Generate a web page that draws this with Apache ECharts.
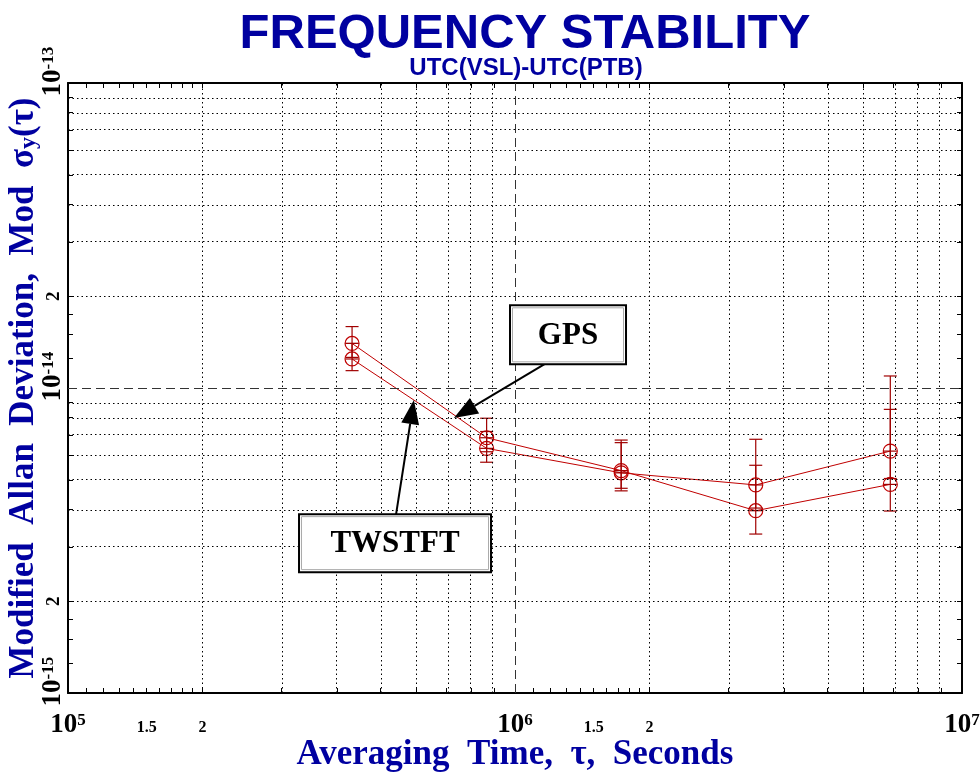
<!DOCTYPE html>
<html><head><meta charset="utf-8">
<script src="https://cdn.jsdelivr.net/npm/echarts@6/dist/echarts.min.js"></script>
<style>html,body{margin:0;padding:0;background:#fff}#c{width:980px;height:773px}</style>
</head><body><div id="c"></div>
<script>
// ---- data (raw units: seconds, fractional frequency) ----
const tau = [432000, 864000, 1728000, 3456000, 6912000];
const gps = [1.40e-14, 6.87e-15, 5.36e-15, 3.96e-15, 4.83e-15];
const gpsLow = [1.26e-14, 6.18e-15, 4.69e-15, 3.32e-15, 3.95e-15];
const gpsHigh = [1.59e-14, 7.96e-15, 6.75e-15, 5.58e-15, 8.51e-15];
const twstft = [1.245e-14, 6.34e-15, 5.27e-15, 4.81e-15, 6.21e-15];
const twstftLow = [1.14e-14, 5.71e-15, 4.60e-15, 4.04e-15, 5.05e-15];
const twstftHigh = [1.40e-14, 7.2e-15, 6.62e-15, 6.79e-15, 1.095e-14];

const xDecades = [1e5, 1e6, 1e7];
const yDecades = [1e-15, 1e-14, 1e-13];
const xTickMults = [1.1, 1.2, 1.3, 1.4, 1.5, 1.6, 1.7, 1.8, 1.9, 2, 3, 4, 5, 6, 7, 8, 9];
const yTickMults = [1.25, 1.5, 1.75, 2, 3, 4, 5, 6, 7, 8, 9];
const gridMults = [2, 3, 4, 5, 6, 7, 8, 9];
const xLabelValues = [1e5, 1.5e5, 2e5, 1e6, 1.5e6, 2e6, 1e7];
const yLabelValues = [1e-15, 2e-15, 1e-14, 2e-14, 1e-13];

const boxLabels = ['GPS', 'TWSTFT'];
const boxTau = [1.314e6, 5.39e5];
const boxAdev = [1.494e-14, 3.1e-15];
const arrowFromTau = [1.167e6, 5.42e5];
const arrowFromAdev = [1.2e-14, 3.86e-15];
const arrowToTau = [7.30e5, 5.94e5];
const arrowToAdev = [7.97e-15, 9.13e-15];

// ---- helpers ----
const L = Math.log10;
function expand(decades, mults) {
  const out = [];
  for (let i = 0; i < decades.length; i++) {
    out.push(L(decades[i]));
    if (i < decades.length - 1) mults.forEach(m => out.push(L(m * decades[i])));
  }
  return out;
}
const xTicks = expand(xDecades, xTickMults);
const yTicks = expand(yDecades, yTickMults);
const xGridMinor = [], yGridMinor = [];
for (let i = 0; i < xDecades.length - 1; i++) gridMults.forEach(m => xGridMinor.push(L(m * xDecades[i])));
for (let i = 0; i < yDecades.length - 1; i++) gridMults.forEach(m => yGridMinor.push(L(m * yDecades[i])));
const xGridMajor = xDecades.slice(1, -1).map(L);
const yGridMajor = yDecades.slice(1, -1).map(L);

const serif = '"Liberation Serif","DejaVu Serif",serif';
const blue = '#0000a0';
const red = '#c00000';
const errRed = '#a00000';
const boxSize = { GPS: [116, 59], TWSTFT: [192, 58] };

function fmtX(v) {
  const r = Math.round(v);
  if (Math.abs(v - r) < 1e-6) return '{b|10}{sup|' + r + '}';
  const m = Math.pow(10, v - Math.floor(v));
  return '{g|1}{s|' + (+m.toFixed(2)) + '}{g|1}';
}
function fmtY(v) {
  const r = Math.round(v);
  if (Math.abs(v - r) < 1e-6) return '{sp|' + r + '}{b|10}{sup|' + r + '}';
  const m = Math.pow(10, v - Math.floor(v));
  return '{g|1}{s|' + (+m.toFixed(2)) + '}{g|1}';
}
function makeRich(sSize) {
  return {
    b: { fontFamily: serif, fontWeight: 'bold', fontSize: 27, color: '#000', lineHeight: 27, verticalAlign: 'bottom' },
    g: { fontFamily: serif, fontWeight: 'bold', fontSize: 27, color: 'rgba(0,0,0,0)', lineHeight: 27, verticalAlign: 'bottom' },
    sup: { fontFamily: serif, fontWeight: 'bold', fontSize: 17, color: '#000', lineHeight: 17, padding: [0, 0, 12, 0], verticalAlign: 'top' },
    sp: { fontFamily: serif, fontWeight: 'bold', fontSize: 17, color: 'rgba(0,0,0,0)', lineHeight: 17, padding: [0, 0, 12, 0], verticalAlign: 'top' },
    s: { fontFamily: serif, fontWeight: 'bold', fontSize: sSize, color: '#000', lineHeight: sSize, padding: [0, 0, 3, 0], verticalAlign: 'bottom' }
  };
}

function renderErr(params, api) {
  const x = api.value(0);
  const p0 = api.coord([x, api.value(1)]);
  const p1 = api.coord([x, api.value(2)]);
  const pc = api.coord([x, api.value(3)]);
  const cw = 6.5;
  const st = { stroke: errRed, lineWidth: 1.2 };
  return {
    type: 'group', children: [
      { type: 'line', shape: { x1: p0[0], y1: p0[1], x2: p1[0], y2: p1[1] }, style: st },
      { type: 'line', shape: { x1: p0[0] - cw, y1: p0[1], x2: p0[0] + cw, y2: p0[1] }, style: st },
      { type: 'line', shape: { x1: p1[0] - cw, y1: p1[1], x2: p1[0] + cw, y2: p1[1] }, style: st },
      { type: 'line', shape: { x1: pc[0] - cw, y1: pc[1], x2: pc[0] + cw, y2: pc[1] }, style: st }
    ]
  };
}
function renderArrow(params, api) {
  const a = api.coord([api.value(0), api.value(1)]);
  const b = api.coord([api.value(2), api.value(3)]);
  const dx = b[0] - a[0], dy = b[1] - a[1];
  const len = Math.sqrt(dx * dx + dy * dy);
  const ux = dx / len, uy = dy / len;
  const hl = 24, hw = 9;
  const bx = b[0] - ux * hl, by = b[1] - uy * hl;
  return {
    type: 'group', children: [
      { type: 'line', shape: { x1: a[0], y1: a[1], x2: bx, y2: by }, style: { stroke: '#000', lineWidth: 2 } },
      { type: 'polygon', shape: { points: [[b[0], b[1]], [bx - uy * hw, by + ux * hw], [bx + uy * hw, by - ux * hw]] }, style: { fill: '#000' } }
    ]
  };
}
function renderBox(params, api) {
  const c = api.coord([api.value(0), api.value(1)]);
  const name = boxLabels[params.dataIndex];
  const sz = boxSize[name];
  const x0 = c[0] - sz[0] / 2, y0 = c[1] - sz[1] / 2;
  return {
    type: 'group', children: [
      { type: 'rect', shape: { x: x0, y: y0, width: sz[0], height: sz[1] }, style: { fill: '#fff', stroke: '#000', lineWidth: 2 } },
      { type: 'rect', shape: { x: x0 + 2.5, y: y0 + 2.5, width: sz[0] - 5, height: sz[1] - 5 }, style: { fill: 'none', stroke: '#aaa', lineWidth: 1 } },
      { type: 'text', x: c[0], y: c[1] + 1, style: { text: name, font: 'bold 31px ' + serif, fill: '#000', align: 'center', verticalAlign: 'middle' } }
    ]
  };
}
function errData(vals, lo, hi) {
  return tau.map((t, i) => [L(t), L(lo[i]), L(hi[i]), L(vals[i])]);
}
function lineData(vals) { return tau.map((t, i) => [L(t), L(vals[i])]); }

const dotted = { type: [1.5, 3], color: '#000', width: 1 };
const dashed = { type: [9, 5], color: '#333', width: 1 };
const gridLines = [].concat(
  xGridMinor.map(v => ({ xAxis: v, lineStyle: dotted })),
  yGridMinor.map(v => ({ yAxis: v, lineStyle: dotted })),
  xGridMajor.map(v => ({ xAxis: v, lineStyle: dashed })),
  yGridMajor.map(v => ({ yAxis: v, lineStyle: dashed }))
);

const axisCommon = {
  type: 'value', splitLine: { show: false },
  axisLine: { show: true, onZero: false, lineStyle: { color: '#000', width: 2 } }
};

const chart = echarts.init(document.getElementById('c'), null, { renderer: 'canvas' });
chart.setOption({
  animation: false,
  backgroundColor: '#fff',
  grid: { left: 68, right: 18, top: 83, bottom: 80, containLabel: false, outerBoundsMode: 'none' },
  graphic: [
    { type: 'text', x: 525, y: 34, style: { text: 'FREQUENCY STABILITY', font: 'bold 49px "Liberation Sans", Arial, sans-serif', fill: blue, align: 'center', verticalAlign: 'middle' } },
    { type: 'text', x: 526, y: 68, style: { text: 'UTC(VSL)-UTC(PTB)', font: 'bold 24px "Liberation Sans", Arial, sans-serif', fill: blue, align: 'center', verticalAlign: 'middle' } }
  ],
  xAxis: [
    Object.assign({}, axisCommon, {
      position: 'bottom', min: L(xDecades[0]), max: L(xDecades[xDecades.length - 1]),
      axisTick: { show: true, inside: true, length: 5, customValues: xTicks, lineStyle: { color: '#000', width: 1 } },
      axisLabel: { show: true, customValues: xLabelValues.map(L), margin: 19, formatter: fmtX, rich: makeRich(16) },
      name: 'Averaging  Time,  τ,  Seconds', nameLocation: 'middle', nameGap: 44, nameMoveOverlap: false,
      nameTextStyle: { fontFamily: serif, fontWeight: 'bold', fontSize: 35, color: blue }
    }),
    Object.assign({}, axisCommon, {
      position: 'top', min: L(xDecades[0]), max: L(xDecades[xDecades.length - 1]),
      axisTick: { show: true, inside: true, length: 5, customValues: xTicks, lineStyle: { color: '#000', width: 1 } },
      axisLabel: { show: false }
    })
  ],
  yAxis: [
    Object.assign({}, axisCommon, {
      position: 'left', min: L(yDecades[0]), max: L(yDecades[yDecades.length - 1]),
      axisTick: { show: true, inside: true, length: 5, customValues: yTicks, lineStyle: { color: '#000', width: 1 } },
      axisLabel: { show: true, customValues: yLabelValues.map(L), rotate: 90, margin: 1, formatter: fmtY, rich: makeRich(19) },
      name: '{n|Modified  Allan  Deviation,  Mod  σ}{sub|y}{n|(τ)}', nameLocation: 'middle', nameGap: 27, nameMoveOverlap: false,
      nameTextStyle: {
        rich: {
          n: { fontFamily: serif, fontWeight: 'bold', fontSize: 35, color: blue, lineHeight: 35, verticalAlign: 'top' },
          sub: { fontFamily: serif, fontWeight: 'bold', fontSize: 24, color: blue, lineHeight: 24, padding: [14, 0, 0, 0], verticalAlign: 'bottom' }
        }
      }
    }),
    Object.assign({}, axisCommon, {
      position: 'right', min: L(yDecades[0]), max: L(yDecades[yDecades.length - 1]),
      axisTick: { show: true, inside: true, length: 5, customValues: yTicks, lineStyle: { color: '#000', width: 1 } },
      axisLabel: { show: false }
    })
  ],
  series: [
    {
      type: 'line', data: [], silent: true, z: 1,
      markLine: { silent: true, symbol: ['none', 'none'], label: { show: false }, animation: false, data: gridLines }
    },
    {
      name: 'GPS', type: 'line', data: lineData(gps), z: 3,
      symbol: 'circle', symbolSize: 14, showAllSymbol: true,
      lineStyle: { color: red, width: 1 },
      itemStyle: { color: 'rgba(0,0,0,0)', borderColor: red, borderWidth: 1.2 }
    },
    {
      name: 'TWSTFT', type: 'line', data: lineData(twstft), z: 3,
      symbol: 'circle', symbolSize: 14, showAllSymbol: true,
      lineStyle: { color: red, width: 1 },
      itemStyle: { color: 'rgba(0,0,0,0)', borderColor: red, borderWidth: 1.2 }
    },
    { type: 'custom', renderItem: renderErr, data: errData(gps, gpsLow, gpsHigh), z: 4, encode: { x: 0, y: [1, 2, 3] } },
    { type: 'custom', renderItem: renderErr, data: errData(twstft, twstftLow, twstftHigh), z: 4, encode: { x: 0, y: [1, 2, 3] } },
    {
      type: 'custom', renderItem: renderArrow, z: 5, silent: true, encode: { x: [0, 2], y: [1, 3] },
      data: arrowFromTau.map((t, i) => [L(t), L(arrowFromAdev[i]), L(arrowToTau[i]), L(arrowToAdev[i])])
    },
    {
      type: 'custom', renderItem: renderBox, z: 6, silent: true, encode: { x: 0, y: 1 },
      data: boxTau.map((t, i) => [L(t), L(boxAdev[i])])
    }
  ]
});
</script></body></html>
